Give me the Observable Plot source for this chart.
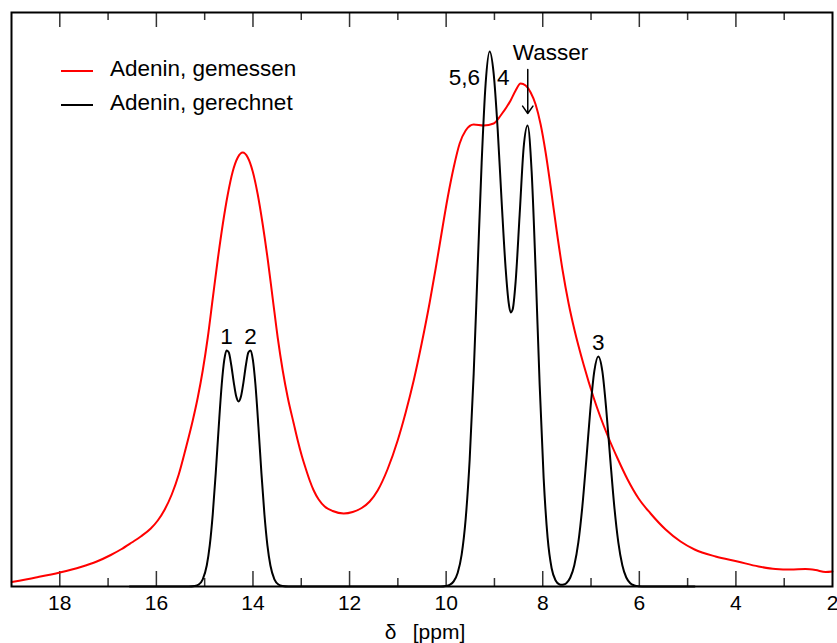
<!DOCTYPE html>
<html>
<head>
<meta charset="utf-8">
<script src="https://cdn.jsdelivr.net/npm/d3@7"></script>
<script src="https://cdn.jsdelivr.net/npm/@observablehq/plot@0.6"></script>
<style>
  html, body { margin: 0; padding: 0; background: #fff; }
  #wrap { position: relative; width: 837px; height: 643px; font-family: "Liberation Sans", Arial, sans-serif; }
  .lg-line { position: absolute; height: 2px; width: 32px; }
  .lg-text { position: absolute; font-size: 22.5px; line-height: 22.5px; white-space: nowrap; color: #000; }
</style>
</head>
<body>
<div id="wrap"></div>
<script>
// ---- data ----
const seriesNames = ["Adenin, gemessen", "Adenin, gerechnet"];
const seriesColors = ["#ff0000", "#000000"];

// measured spectrum (red): chemical shift [ppm], intensity (arb. units)
const ppmMeasured = [18.994, 18.497, 18.0, 17.565, 17.234, 16.944, 16.737, 16.51, 16.323, 16.116, 15.971, 15.827, 15.682, 15.537, 15.392, 15.247, 15.143, 15.04, 14.936, 14.833, 14.729, 14.626, 14.522, 14.419, 14.315, 14.212, 14.108, 14.005, 13.901, 13.798, 13.694, 13.591, 13.488, 13.384, 13.28, 13.156, 13.073, 12.991, 12.908, 12.825, 12.742, 12.639, 12.515, 12.349, 12.121, 11.935, 11.749, 11.583, 11.418, 11.211, 11.004, 10.838, 10.672, 10.507, 10.341, 10.217, 10.113, 9.968, 9.844, 9.72, 9.596, 9.43, 9.223, 9.016, 8.871, 8.665, 8.561, 8.458, 8.354, 8.25, 8.147, 8.043, 7.94, 7.837, 7.712, 7.588, 7.464, 7.34, 7.154, 6.947, 6.657, 6.45, 6.243, 6.015, 5.767, 5.456, 5.146, 4.856, 4.421, 3.966, 3.531, 3.18, 2.869, 2.558, 2.351, 2.143, 2.0];
const intMeasured = [4.5, 9, 14, 19.5, 25, 31.5, 37, 44, 50, 58, 66, 77, 92, 112, 138, 166, 189, 216, 249, 288, 327, 362, 392, 415, 429, 434, 429, 415, 392, 362, 327, 288, 249, 216, 189, 163, 146, 131, 118, 106, 96, 87, 80, 75.5, 73, 74.5, 78.5, 85, 96, 117.5, 146, 174, 206, 243, 284, 318, 348, 389, 419, 443, 456, 462, 461, 463, 471, 486, 496, 503, 501, 494, 482, 462, 434, 400, 356, 316, 283, 256, 222, 189, 151, 128, 107, 88, 73, 57, 45, 37, 30, 25, 20, 17.5, 17, 17.5, 16.5, 14.5, 15];

// calculated spectrum (black)
const ppmCalc = [16.55, 15.5, 15.33, 15.206, 15.123, 15.04, 14.957, 14.895, 14.833, 14.771, 14.709, 14.647, 14.595, 14.549, 14.502, 14.45, 14.398, 14.346, 14.298, 14.249, 14.197, 14.146, 14.094, 14.046, 14.001, 13.949, 13.887, 13.825, 13.763, 13.701, 13.639, 13.556, 13.473, 13.39, 13.266, 10.113, 10.01, 9.927, 9.844, 9.762, 9.679, 9.596, 9.513, 9.43, 9.348, 9.265, 9.182, 9.099, 9.016, 8.934, 8.851, 8.768, 8.706, 8.665, 8.623, 8.561, 8.478, 8.395, 8.313, 8.23, 8.147, 8.064, 7.981, 7.899, 7.816, 7.733, 7.65, 7.609, 7.567, 7.512, 7.429, 7.346, 7.263, 7.18, 7.097, 7.015, 6.932, 6.849, 6.766, 6.684, 6.601, 6.518, 6.435, 6.352, 6.27, 6.187, 6.104, 6.021, 5.87, 4.856];
const intCalc = [0, 0, 0, 0.5, 2.0, 7.2, 21.0, 41.1, 72.2, 113.4, 159.8, 202, 226.3, 236, 234.2, 221.5, 204.2, 189.9, 185, 189.9, 204.2, 221.5, 234.2, 236, 226.3, 202, 159.8, 113.4, 72.2, 41.1, 21.0, 7.2, 2.0, 0.5, 0, 0, 0.5, 1.7, 5.1, 13.5, 31.9, 67.4, 126.7, 212.6, 317.8, 423.6, 503.3, 535, 512.9, 458, 385, 318, 284, 274, 277, 305, 372, 439, 461, 415.2, 316, 202.1, 108.4, 48.8, 18.3, 6.0, 2.0, 1.7, 1.9, 3.3, 9.0, 21.3, 44.1, 79.9, 126.9, 176.5, 215.3, 230, 215.3, 176.5, 126.9, 79.9, 44.1, 21.3, 9.0, 3.3, 1.1, 0.3, 0, 0];

// axis ticks
const majorTicks = [18, 16, 14, 12, 10, 8, 6, 4, 2];
const minorTicks = [17, 15, 13, 11, 9, 7, 5, 3];
const xLabel = "δ\u2002 [ppm]";

// peak annotations
const peakText = ["1", "2", "5,6", "4", "Wasser", "3"];
const peakPpm = [14.55, 14.05, 9.62, 8.82, 7.84, 6.85];
const peakInt = [250, 250, 509, 509, 534, 244];

// water arrow
const arrowPpm = [8.31];
const arrowFrom = [517];
const arrowTo = [473];

// ---- build ----
const measured = ppmMeasured.map((x, i) => ({x, y: intMeasured[i]}));
const calc = ppmCalc.map((x, i) => ({x, y: intCalc[i]}));
const labels = peakText.map((t, i) => ({t, x: peakPpm[i], y: peakInt[i]}));
const arrows = arrowPpm.map((x, i) => ({x, y1: arrowFrom[i], y2: arrowTo[i]}));
const yTop = 574;
const innerMajor = majorTicks.filter(t => t > 2 && t < 19);

const chart = Plot.plot({
  width: 837,
  height: 643,
  marginLeft: 11,
  marginRight: 5,
  marginTop: 12,
  marginBottom: 57,
  x: {domain: [19, 2]},
  y: {domain: [0, yTop], axis: null},
  style: {fontFamily: "'Liberation Sans', Arial, sans-serif", fontSize: "21px", color: "#000", background: "#fff"},
  marks: [
    Plot.ruleX(innerMajor, {y1: 0, y2: 15, stroke: "#333", strokeWidth: 1.5}),
    Plot.ruleX(minorTicks, {y1: 0, y2: 8, stroke: "#333", strokeWidth: 1.5}),
    Plot.ruleX(innerMajor, {y1: yTop - 15, y2: yTop, stroke: "#333", strokeWidth: 1.5}),
    Plot.ruleX(minorTicks, {y1: yTop - 8, y2: yTop, stroke: "#333", strokeWidth: 1.5}),
    Plot.line(measured, {x: "x", y: "y", stroke: seriesColors[0], strokeWidth: 2, curve: "monotone-x"}),
    Plot.line(calc, {x: "x", y: "y", stroke: seriesColors[1], strokeWidth: 2, curve: "monotone-x"}),
    Plot.frame({stroke: "#000", strokeWidth: 2}),
    Plot.axisX({ticks: majorTicks, tickSize: 0, tickPadding: 9, tickFormat: d => String(d), label: null}),
    Plot.text([xLabel], {text: d => d, frameAnchor: "bottom", dx: 3, dy: 46, lineAnchor: "middle", fontSize: 21, fill: "#000"}),
    Plot.text(labels, {x: "x", y: "y", text: "t", fontSize: 22.5, fill: "#000"}),
    Plot.arrow(arrows, {x1: "x", x2: "x", y1: "y1", y2: "y2", stroke: "#000", strokeWidth: 1.5, headLength: 9, headAngle: 70})
  ]
});

const wrap = document.getElementById("wrap");
wrap.appendChild(chart);

// legend (overlay in the top-left corner of the frame)
const legendRows = [{lineTop: 69.7, textTop: 58.2}, {lineTop: 104.3, textTop: 91.6}];
seriesNames.forEach((name, i) => {
  const ln = document.createElement("div");
  ln.className = "lg-line";
  ln.style.left = "61px";
  ln.style.top = legendRows[i].lineTop + "px";
  ln.style.background = seriesColors[i];
  wrap.appendChild(ln);
  const tx = document.createElement("div");
  tx.className = "lg-text";
  tx.style.left = "110px";
  tx.style.top = legendRows[i].textTop + "px";
  tx.textContent = name;
  wrap.appendChild(tx);
});
</script>
</body>
</html>
